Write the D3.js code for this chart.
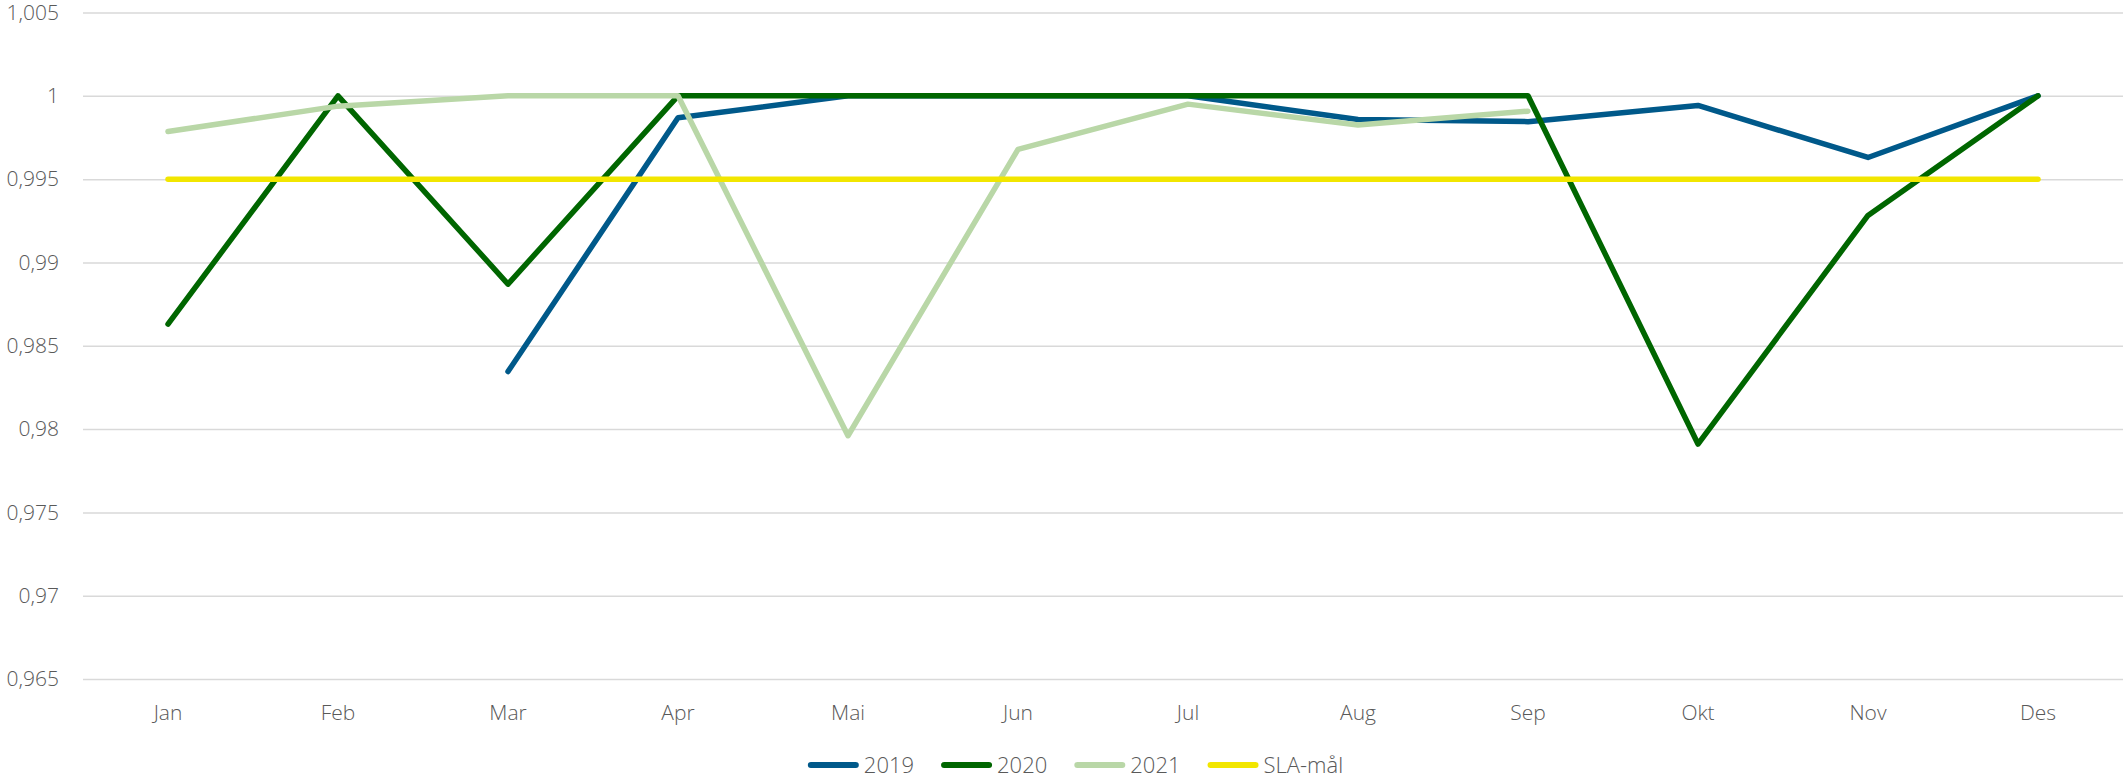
<!DOCTYPE html>
<html><head><meta charset="utf-8">
<script src="https://cdn.jsdelivr.net/npm/d3@7"></script>
<style>
html,body{margin:0;padding:0;background:#fff;}
text{font-family:"Open Sans","Noto Sans",sans-serif;font-weight:300;fill:#595959;}
</style></head>
<body><svg id="c" width="2126" height="778"></svg>
<script>
const months = ["Jan","Feb","Mar","Apr","Mai","Jun","Jul","Aug","Sep","Okt","Nov","Des"];
const s2019 = [null, null, 0.98345, 0.99868, 1.0, 1.0, 1.0, 0.99858, 0.99845, 0.99942, 0.99630, 1.0];
const s2020 = [0.98630, 1.0, 0.98870, 1.0, 1.0, 1.0, 1.0, 1.0, 1.0, 0.97910, 0.99282, 1.0];
const s2021 = [0.99786, 0.99938, 1.0, 1.0, 0.97960, 0.99678, 0.99950, 0.99825, 0.99908, null, null, null];
const sla   = [0.995, 0.995, 0.995, 0.995, 0.995, 0.995, 0.995, 0.995, 0.995, 0.995, 0.995, 0.995];
const seriesNames = ["2019","2020","2021","SLA-mål"];
const seriesColors = ["#00598A","#006600","#B9D7A7","#F2E600"];
const yTicks = [0.965, 0.97, 0.975, 0.98, 0.985, 0.99, 0.995, 1.0, 1.005];

const svg = d3.select("#c");
const x = d3.scaleBand().domain(months).range([83, 2123]).padding(0);
const y = d3.scaleLinear().domain([0.965, 1.005]).range([679, 12.5]);
const loc = d3.formatLocale({decimal: ",", thousands: " ", grouping: [3], currency: ["", ""]});
const fmt = loc.format(".3~f");

const yAxis = d3.axisLeft(y).tickValues(yTicks).tickFormat(fmt).tickSize(-(2123 - 83)).tickPadding(24);
const gy = svg.append("g").attr("transform", "translate(83,0)").call(yAxis);
gy.select(".domain").remove();
gy.selectAll(".tick line").attr("stroke", "#D9D9D9").attr("stroke-width", 1.5);
gy.selectAll(".tick text").attr("font-size", 21).attr("fill", "#595959")
  .style("font-family", "'Open Sans','Noto Sans',sans-serif").style("font-weight", 300);

const xAxis = d3.axisBottom(x).tickSize(0).tickPadding(26);
const gx = svg.append("g").attr("transform", "translate(0,679)").call(xAxis);
gx.select(".domain").remove();
gx.selectAll(".tick text").attr("font-size", 21).attr("fill", "#595959")
  .style("font-family", "'Open Sans','Noto Sans',sans-serif").style("font-weight", 300);

const xc = m => x(m) + x.bandwidth() / 2;
const all = [s2019, s2020, s2021, sla];
const line = d3.line()
  .defined(d => d.v !== null)
  .x(d => xc(d.m))
  .y(d => y(d.v));

all.forEach((s, i) => {
  const data = months.map((m, j) => ({m, v: s[j]}));
  svg.append("path")
    .datum(data)
    .attr("d", line)
    .attr("fill", "none")
    .attr("stroke", seriesColors[i])
    .attr("stroke-width", 5.5)
    .attr("stroke-linejoin", "round")
    .attr("stroke-linecap", "round");
});

// legend
const lg = svg.append("g");
let cx = 0;
seriesNames.forEach((n, i) => {
  const g = lg.append("g").attr("transform", `translate(${cx},0)`);
  g.append("line").attr("x1", 3).attr("x2", 48).attr("y1", 0).attr("y2", 0)
    .attr("stroke", seriesColors[i]).attr("stroke-width", 6).attr("stroke-linecap", "round");
  const t = g.append("text").attr("x", 56).attr("y", 0).attr("dy", "0.35em")
    .attr("font-size", 22).attr("fill", "#595959").text(n);
  const w = t.node().getComputedTextLength();
  cx += 56 + w + 27;
});
const total = cx - 27;
lg.attr("transform", `translate(${1075.5 - total / 2},765)`);
</script></body></html>
